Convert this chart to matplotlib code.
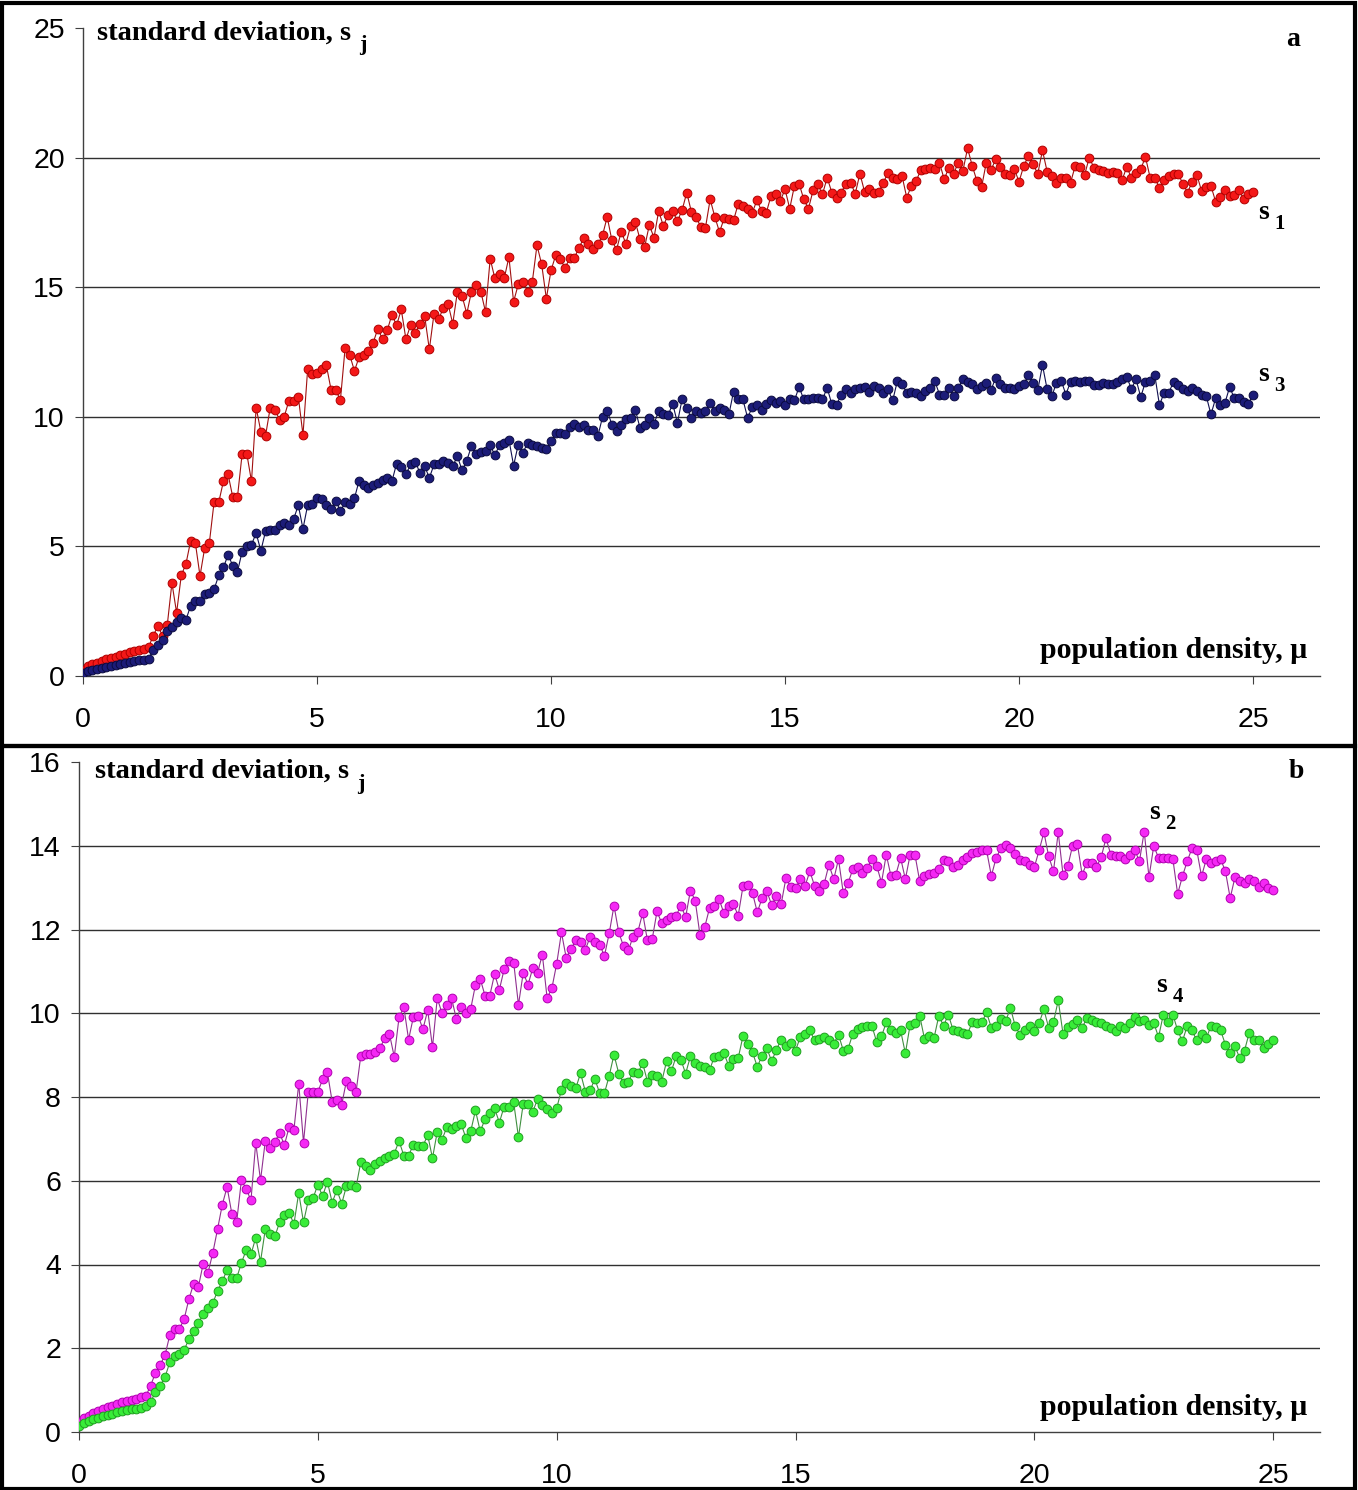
import numpy as np
import matplotlib
matplotlib.use("Agg")
import matplotlib.pyplot as plt
from matplotlib.patches import Rectangle

# population density grid (step 0.1)
mu = np.linspace(0, 25, 251)

# panel a: s1 (red) and s3 (navy)
s1 = [0.25, 0.38, 0.45, 0.52, 0.58, 0.64, 0.70, 0.75, 0.80, 0.86,
      0.91, 0.96, 1.01, 1.06, 1.10, 1.56, 1.92, 1.56, 1.96, 3.59,
      2.44, 3.88, 4.33, 5.21, 5.14, 3.86, 4.94, 5.14, 6.70, 6.70,
      7.51, 7.78, 6.90, 6.90, 8.57, 8.57, 7.51, 10.35, 9.43, 9.27,
      10.35, 10.28, 9.88, 10.01, 10.62, 10.62, 10.78, 9.30, 11.84, 11.64,
      11.70, 11.84, 11.98, 11.05, 11.03, 10.65, 12.65, 12.38, 11.77, 12.31,
      12.38, 12.55, 12.86, 13.40, 12.99, 13.33, 13.94, 13.53, 14.14, 12.99,
      13.54, 13.24, 13.59, 13.89, 12.60, 13.98, 13.76, 14.21, 14.36, 13.59,
      14.83, 14.66, 13.98, 14.83, 15.08, 14.83, 14.05, 16.10, 15.34, 15.52,
      15.34, 16.16, 14.44, 15.11, 15.21, 14.83, 15.21, 16.62, 15.88, 14.56,
      15.65, 16.23, 16.07, 15.75, 16.11, 16.14, 16.53, 16.89, 16.65, 16.46,
      16.65, 17.00, 17.71, 16.81, 16.45, 17.14, 16.68, 17.36, 17.53, 16.85,
      16.55, 17.40, 16.91, 17.94, 17.36, 17.79, 17.94, 17.55, 17.97, 18.65,
      17.90, 17.71, 17.32, 17.30, 18.39, 17.71, 17.13, 17.66, 17.62, 17.58,
      18.22, 18.13, 18.01, 17.88, 18.35, 17.94, 17.88, 18.52, 18.58, 18.33,
      18.78, 18.03, 18.91, 19.00, 18.39, 18.03, 18.74, 18.97, 18.58, 19.23,
      18.65, 18.46, 18.65, 19.00, 19.03, 18.61, 19.38, 18.68, 18.78, 18.65,
      18.68, 19.03, 19.42, 19.23, 19.16, 19.29, 18.46, 18.91, 19.10, 19.51,
      19.55, 19.59, 19.55, 19.81, 19.16, 19.61, 19.36, 19.81, 19.49, 20.36,
      19.68, 19.10, 18.87, 19.81, 19.51, 19.94, 19.64, 19.36, 19.33, 19.55,
      19.07, 19.68, 20.06, 19.74, 19.38, 20.28, 19.46, 19.29, 19.03, 19.23,
      19.23, 19.03, 19.68, 19.64, 19.33, 20.00, 19.61, 19.51, 19.49, 19.42,
      19.46, 19.42, 19.12, 19.64, 19.23, 19.42, 19.55, 20.03, 19.23, 19.23,
      18.82, 19.12, 19.29, 19.36, 19.36, 19.00, 18.65, 19.07, 19.33, 18.71,
      18.87, 18.91, 18.30, 18.48, 18.74, 18.52, 18.56, 18.74, 18.39, 18.60,
      18.68]

s3 = [0.12, 0.18, 0.23, 0.28, 0.32, 0.36, 0.40, 0.44, 0.48, 0.51,
      0.54, 0.57, 0.60, 0.63, 0.67, 1.00, 1.20, 1.40, 1.75, 1.89,
      2.10, 2.25, 2.17, 2.71, 2.91, 2.91, 3.18, 3.21, 3.34, 3.88,
      4.19, 4.67, 4.26, 4.02, 4.80, 5.01, 5.07, 5.51, 4.83, 5.58,
      5.62, 5.64, 5.82, 5.89, 5.82, 6.05, 6.59, 5.68, 6.59, 6.63,
      6.86, 6.83, 6.59, 6.43, 6.77, 6.36, 6.70, 6.63, 6.86, 7.54,
      7.37, 7.27, 7.35, 7.44, 7.58, 7.65, 7.51, 8.19, 8.08, 7.78,
      8.16, 8.26, 7.84, 8.10, 7.64, 8.16, 8.16, 8.29, 8.22, 8.10,
      8.48, 7.93, 8.31, 8.87, 8.55, 8.65, 8.67, 8.91, 8.52, 8.91,
      9.00, 9.12, 8.12, 8.93, 8.61, 9.00, 8.93, 8.87, 8.80, 8.74,
      9.06, 9.38, 9.38, 9.32, 9.60, 9.73, 9.60, 9.70, 9.51, 9.51,
      9.25, 9.99, 10.24, 9.70, 9.45, 9.70, 9.90, 9.94, 10.28, 9.58,
      9.70, 9.96, 9.73, 10.22, 10.09, 10.06, 10.50, 9.77, 10.67, 10.35,
      9.94, 10.22, 10.15, 10.22, 10.54, 10.22, 10.35, 10.28, 10.09, 10.97,
      10.67, 10.67, 9.96, 10.37, 10.45, 10.28, 10.48, 10.63, 10.54, 10.60,
      10.45, 10.67, 10.63, 11.15, 10.67, 10.67, 10.73, 10.73, 10.67, 11.12,
      10.48, 10.45, 10.86, 11.09, 10.93, 11.06, 11.12, 11.15, 10.97, 11.18,
      11.12, 10.93, 11.06, 10.63, 11.38, 11.25, 10.93, 10.97, 10.93, 10.80,
      10.99, 11.12, 11.38, 10.86, 10.84, 11.12, 10.80, 11.12, 11.44, 11.35,
      11.25, 11.09, 11.18, 11.31, 11.02, 11.51, 11.25, 11.12, 11.12, 11.06,
      11.18, 11.25, 11.61, 11.31, 11.02, 12.00, 11.06, 10.80, 11.31, 11.40,
      10.86, 11.35, 11.38, 11.35, 11.38, 11.40, 11.22, 11.22, 11.31, 11.25,
      11.27, 11.35, 11.44, 11.53, 11.09, 11.44, 10.76, 11.35, 11.40, 11.61,
      10.45, 10.93, 10.93, 11.35, 11.22, 11.06, 10.99, 11.12, 10.99, 10.86,
      10.80, 10.09, 10.71, 10.45, 10.54, 11.15, 10.71, 10.73, 10.58, 10.50,
      10.86]

# panel b: s2 (magenta) and s4 (green)
s2 = [0.25, 0.33, 0.39, 0.45, 0.50, 0.55, 0.59, 0.63, 0.67, 0.71,
      0.74, 0.77, 0.80, 0.83, 0.86, 1.11, 1.41, 1.61, 1.83, 2.31,
      2.46, 2.46, 2.69, 3.17, 3.54, 3.47, 4.02, 3.80, 4.27, 4.84,
      5.43, 5.85, 5.21, 5.01, 6.01, 5.81, 5.53, 6.91, 6.01, 6.95,
      6.78, 6.93, 7.14, 6.85, 7.29, 7.22, 8.32, 6.91, 8.12, 8.12,
      8.12, 8.42, 8.59, 7.89, 7.92, 7.82, 8.39, 8.26, 8.12, 8.99,
      9.03, 9.03, 9.07, 9.17, 9.40, 9.50, 8.96, 9.90, 10.15, 9.37,
      9.91, 9.94, 9.62, 10.07, 9.19, 10.36, 10.00, 10.20, 10.36, 9.86,
      10.15, 10.00, 10.10, 10.68, 10.82, 10.42, 10.42, 10.94, 10.56, 11.05,
      11.24, 11.21, 10.20, 10.97, 10.68, 11.08, 10.97, 11.40, 10.36, 10.60,
      11.18, 11.93, 11.32, 11.53, 11.74, 11.71, 11.52, 11.82, 11.69, 11.64,
      11.37, 11.91, 12.57, 11.93, 11.60, 11.50, 11.83, 11.95, 12.39, 11.74,
      11.77, 12.43, 12.15, 12.23, 12.30, 12.33, 12.57, 12.30, 12.93, 12.69,
      11.87, 12.06, 12.51, 12.57, 12.73, 12.39, 12.57, 12.61, 12.33, 13.03,
      13.07, 12.87, 12.41, 12.75, 12.91, 12.59, 12.79, 12.61, 13.23, 13.01,
      12.99, 13.20, 13.04, 13.39, 13.04, 12.93, 13.09, 13.55, 13.20, 13.68,
      12.87, 13.11, 13.44, 13.49, 13.35, 13.47, 13.68, 13.52, 13.12, 13.79,
      13.27, 13.31, 13.71, 13.20, 13.79, 13.79, 13.15, 13.27, 13.33, 13.36,
      13.44, 13.67, 13.63, 13.49, 13.55, 13.65, 13.73, 13.82, 13.86, 13.90,
      13.89, 13.28, 13.71, 13.94, 14.02, 13.94, 13.81, 13.67, 13.63, 13.55,
      13.49, 13.89, 14.32, 13.75, 13.39, 14.32, 13.31, 13.51, 14.00, 14.05,
      13.31, 13.59, 13.60, 13.49, 13.73, 14.18, 13.79, 13.76, 13.76, 13.68,
      13.79, 13.90, 13.63, 14.34, 13.25, 14.00, 13.71, 13.71, 13.71, 13.68,
      12.85, 13.27, 13.63, 13.94, 13.90, 13.27, 13.68, 13.60, 13.63, 13.68,
      13.39, 12.75, 13.25, 13.15, 13.11, 13.20, 13.17, 13.01, 13.12, 12.99,
      12.95]

s4 = [0.15, 0.21, 0.26, 0.30, 0.34, 0.38, 0.41, 0.44, 0.47, 0.50,
      0.52, 0.54, 0.56, 0.58, 0.62, 0.72, 0.95, 1.11, 1.31, 1.66,
      1.81, 1.86, 1.96, 2.21, 2.41, 2.61, 2.81, 2.96, 3.07, 3.37,
      3.60, 3.87, 3.67, 3.67, 4.04, 4.34, 4.24, 4.64, 4.07, 4.84,
      4.74, 4.67, 5.01, 5.18, 5.23, 4.97, 5.71, 5.01, 5.53, 5.58,
      5.91, 5.63, 5.98, 5.48, 5.78, 5.45, 5.88, 5.91, 5.85, 6.45,
      6.35, 6.25, 6.41, 6.48, 6.55, 6.58, 6.65, 6.95, 6.60, 6.60,
      6.86, 6.82, 6.83, 7.09, 6.54, 7.17, 6.98, 7.28, 7.23, 7.30,
      7.36, 7.02, 7.18, 7.68, 7.18, 7.47, 7.61, 7.73, 7.39, 7.77,
      7.77, 7.87, 7.04, 7.84, 7.84, 7.65, 7.95, 7.82, 7.71, 7.61,
      7.73, 8.17, 8.33, 8.27, 8.21, 8.57, 8.13, 8.16, 8.43, 8.09,
      8.09, 8.51, 9.01, 8.56, 8.33, 8.37, 8.59, 8.57, 8.81, 8.37,
      8.53, 8.49, 8.37, 8.85, 8.61, 8.97, 8.89, 8.56, 8.97, 8.82,
      8.75, 8.72, 8.64, 8.96, 8.97, 9.05, 8.75, 8.91, 8.93, 9.45,
      9.27, 9.07, 8.72, 8.99, 9.17, 8.85, 9.13, 9.37, 9.21, 9.29,
      9.11, 9.43, 9.51, 9.59, 9.35, 9.39, 9.43, 9.35, 9.27, 9.49,
      9.11, 9.15, 9.51, 9.62, 9.67, 9.70, 9.70, 9.31, 9.45, 9.78,
      9.59, 9.54, 9.59, 9.04, 9.73, 9.77, 9.94, 9.39, 9.45, 9.41,
      9.94, 9.70, 9.97, 9.59, 9.57, 9.54, 9.51, 9.78, 9.77, 9.78,
      10.02, 9.65, 9.70, 9.86, 9.81, 10.13, 9.69, 9.49, 9.59, 9.69,
      9.57, 9.77, 10.09, 9.65, 9.78, 10.31, 9.51, 9.67, 9.75, 9.85,
      9.65, 9.89, 9.83, 9.78, 9.77, 9.69, 9.65, 9.57, 9.69, 9.65,
      9.77, 9.91, 9.81, 9.85, 9.73, 9.77, 9.43, 9.97, 9.78, 9.97,
      9.59, 9.33, 9.70, 9.59, 9.35, 9.51, 9.41, 9.70, 9.67, 9.59,
      9.25, 9.05, 9.21, 8.93, 9.11, 9.54, 9.37, 9.35, 9.17, 9.27,
      9.35]

yticks_a = [0, 5, 10, 15, 20, 25]
yticks_b = [0, 2, 4, 6, 8, 10, 12, 14, 16]
xticks = [0, 5, 10, 15, 20, 25]

W, H = 1358, 1490
fig = plt.figure(figsize=(W / 100, H / 100), dpi=100)

SERIF = ["Liberation Serif", "DejaVu Serif"]
SANS = ["Liberation Sans", "DejaVu Sans"]


def sub_label(ax, x, y, main, sub, size=20, subsize=15, coords="data",
              gap=4):
    tr = ax.transData if coords == "data" else ax.transAxes
    t = ax.text(x, y, main, transform=tr, fontsize=size, fontweight="bold",
                family=SERIF, ha="left", va="center")
    ax.annotate(sub, xy=(1, 0), xycoords=t, xytext=(gap, -7),
                textcoords="offset points", fontsize=subsize,
                fontweight="bold", family=SERIF, ha="left", va="bottom")
    return t


def make_panel(rect, xmax, yticks, series, tag, tag_xy, ylab_xy, xlab_xy):
    ax = fig.add_axes(rect)
    for y, face, edge, line in series:
        ax.plot(mu, y, color=line, lw=0.8, marker="o", ms=6.3,
                mfc=face, mec=edge, mew=0.7, zorder=3)
    ax.set_xlim(0, xmax)
    ax.set_ylim(yticks[0], yticks[-1])
    ax.set_xticks(xticks)
    ax.set_yticks(yticks)
    for v in yticks[1:-1]:
        ax.axhline(v, color="#303030", lw=1.0, zorder=1)
    for s in ["top", "right"]:
        ax.spines[s].set_visible(False)
    for s in ["left", "bottom"]:
        ax.spines[s].set_color("#404040")
        ax.spines[s].set_linewidth(1.0)
    ax.tick_params(axis="x", direction="out", length=6, pad=16,
                   labelsize=20.5, color="#404040")
    ax.tick_params(axis="y", direction="out", length=6, pad=7,
                   labelsize=20.5, color="#404040")
    for lab in ax.get_xticklabels() + ax.get_yticklabels():
        lab.set_family(SANS)
    sub_label(ax, ylab_xy[0], ylab_xy[1], "standard deviation, s", "j",
              size=20.5, subsize=16, coords="axes", gap=6)
    ax.text(xlab_xy[0], xlab_xy[1], "population density, \u03bc",
            transform=ax.transAxes, fontsize=21.5, fontweight="bold",
            family=SERIF, ha="right", va="center")
    ax.text(tag_xy[0], tag_xy[1], tag, transform=ax.transAxes, fontsize=20,
            fontweight="bold", family=SERIF, ha="center", va="center")
    return ax


ax_a = make_panel([83 / W, 1 - 676 / H, 1237 / W, 648 / H], 26.43, yticks_a,
                  [(s1, "#f41818", "#b00000", "#a01010"),
                   (s3, "#1c1c78", "#0a0a40", "#101050")],
                  "a", (0.978, 0.983), (0.011, 0.992), (0.990, 0.039))
sub_label(ax_a, 25.1, 17.9, "s", "1")
sub_label(ax_a, 25.1, 11.65, "s", "3")

ax_b = make_panel([79 / W, 1 - 1432 / H, 1241 / W, 670 / H], 25.98, yticks_b,
                  [(s2, "#f428f4", "#b000b0", "#903090"),
                   (s4, "#38ec38", "#20a020", "#409040")],
                  "b", (0.981, 0.986), (0.013, 0.986), (0.990, 0.037))
sub_label(ax_b, 22.4, 14.8, "s", "2")
sub_label(ax_b, 22.55, 10.67, "s", "4")

# black frames around both panels
fig.add_artist(Rectangle((2 / W, 1 - 746 / H), 1353 / W, 743 / H,
                         transform=fig.transFigure, fill=False, lw=3,
                         ec="black"))
fig.add_artist(Rectangle((2 / W, 1 - 1489 / H), 1353 / W, 743 / H,
                         transform=fig.transFigure, fill=False, lw=3,
                         ec="black"))

fig.savefig("out.png", dpi=100)
